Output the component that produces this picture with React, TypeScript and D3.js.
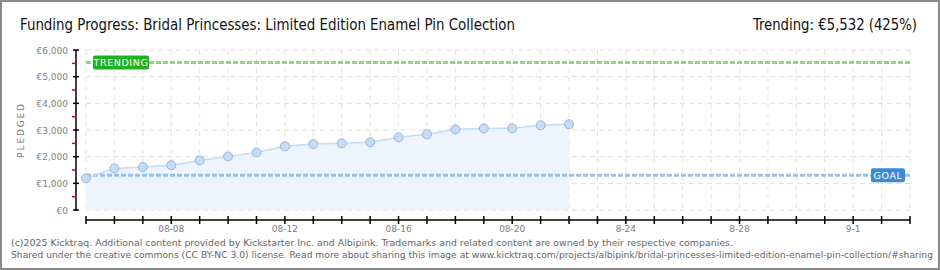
import React from "react";
import * as d3 from "d3";

const startDate = new Date(2025, 7, 5);
const endDate = new Date(2025, 8, 3);
const pledged = [1190, 1560, 1610, 1680, 1860, 2010, 2160, 2390, 2475, 2500, 2540, 2725, 2840, 3025, 3060, 3065, 3175, 3215];
const goal = 1300;
const trending = 5532;
const yTicks = [0, 1000, 2000, 3000, 4000, 5000, 6000];
const yMinor = [500, 1500, 2500, 3500, 4500, 5500];
const xLabelDates = [new Date(2025, 7, 8), new Date(2025, 7, 12), new Date(2025, 7, 16), new Date(2025, 7, 20), new Date(2025, 7, 24), new Date(2025, 7, 28), new Date(2025, 8, 1)];
const xLabels = ["08-08", "08-12", "08-16", "08-20", "8-24", "8-28", "9-1"];
const title = "Funding Progress: Bridal Princesses: Limited Edition Enamel Pin Collection";
const trendText = "Trending:  €5,532 (425%)";
const footer1 = "(c)2025 Kicktraq. Additional content provided by Kickstarter Inc. and Albipink. Trademarks and related content are owned by their respective companies.";
const footer2 = "Shared under the creative commons (CC BY-NC 3.0) license. Read more about sharing this image at www.kicktraq.com/projects/albipink/bridal-princesses-limited-edition-enamel-pin-collection/#sharing";

export default function App() {
  const W = 940, H = 270;
  const x = d3.scaleTime().domain([startDate, endDate]).range([86, 910]);
  const y = d3.scaleLinear().domain([0, 6000]).range([210, 50]);
  const days = d3.timeDay.range(startDate, d3.timeDay.offset(endDate, 1));
  const data = pledged.map((v, i) => ({ d: d3.timeDay.offset(startDate, i), v }));
  const line = d3.line<any>().x(p => x(p.d)).y(p => y(p.v));
  const area = d3.area<any>().x(p => x(p.d)).y0(y(0)).y1(p => y(p.v));
  const font = "'DejaVu Sans', sans-serif";
  const cond = "'DejaVu Sans Condensed', 'DejaVu Sans', sans-serif";
  const [x0, x1] = x.range();
  return (
    <div style={{ position: "absolute", left: 0, top: 0 }}>
      <svg width={W} height={H} style={{ display: "block", background: "#fff" }}>
        <rect x={1} y={1} width={W - 2} height={H - 2} fill="#fff" stroke="#8a8a8a" strokeWidth={2} />
        <g>
          {yTicks.map(t => (
            <line key={"gy" + t} x1={x0} x2={x1} y1={y(t)} y2={y(t)} stroke="#dedede" strokeDasharray="5,4" />
          ))}
          {days.map((d, i) => (
            <line key={"gx" + i} x1={x(d)} x2={x(d)} y1={y(6000)} y2={y(0)} stroke="#e2e2e2" strokeDasharray="5,4" />
          ))}
          <path d={area(data) || ""} fill="#edf4fd" />
          <line x1={x0} x2={x1} y1={y(trending)} y2={y(trending)} stroke="#8fd67f" strokeWidth={3} strokeDasharray="5,2" />
          <line x1={x0} x2={x1} y1={y(goal)} y2={y(goal)} stroke="#98c0ea" strokeWidth={3} strokeDasharray="5,2" />
          <path d={line(data) || ""} fill="none" stroke="#c3dbf4" strokeWidth={1.5} />
          {data.map((p, i) => (
            <circle key={"pt" + i} cx={x(p.d)} cy={y(p.v)} r={4.5} fill="#c4dcf6" stroke="#9ab4d4" strokeWidth={1} />
          ))}
          <rect x={93} y={y(trending) - 7} width={56} height={14} rx={2} fill="#1eb01e" />
          <text x={121} y={y(trending) + 3.5} textAnchor="middle" fill="#fff" fontFamily={font} fontSize={9.5} letterSpacing={0.6}>TRENDING</text>
          <rect x={871} y={y(goal) - 7} width={34} height={14} rx={2} fill="#3b8ad6" />
          <text x={888} y={y(goal) + 3.5} textAnchor="middle" fill="#fff" fontFamily={font} fontSize={9.5} letterSpacing={0.6}>GOAL</text>
          <line x1={76} x2={76} y1={y(6000)} y2={y(0) + 1} stroke="#000" strokeWidth={1.5} />
          {yTicks.map(t => (
            <g key={"yt" + t}>
              <line x1={73} x2={79} y1={y(t)} y2={y(t)} stroke="#000" strokeWidth={1.5} />
              <text x={68} y={y(t) + 3.5} textAnchor="end" fill="#808080" fontFamily={font} fontSize={9}>{"€" + d3.format(",")(t)}</text>
            </g>
          ))}
          {yMinor.map(t => (
            <line key={"ym" + t} x1={72} x2={75} y1={y(t)} y2={y(t)} stroke="#e00000" strokeWidth={1.5} />
          ))}
          <text transform={`translate(24,${130}) rotate(-90)`} textAnchor="middle" fill="#777" fontFamily={font} fontSize={9} letterSpacing={1.8}>PLEDGED</text>
          <line x1={x0} x2={x1} y1={220} y2={220} stroke="#000" strokeWidth={1.5} />
          {days.map((d, i) => (
            <line key={"xt" + i} x1={x(d)} x2={x(d)} y1={216} y2={224} stroke="#000" strokeWidth={1.5} />
          ))}
          {xLabelDates.map((d, i) => (
            <text key={"xl" + i} x={x(d)} y={232} textAnchor="middle" fill="#808080" fontFamily={font} fontSize={9}>{xLabels[i]}</text>
          ))}
          <text x={20} y={30} fill="#111" fontFamily={cond} fontSize={16} textLength={495} lengthAdjust="spacingAndGlyphs">{title}</text>
          <text x={753} y={30} fill="#111" fontFamily={cond} fontSize={16} textLength={164} lengthAdjust="spacingAndGlyphs">{trendText}</text>
          <text x={11} y={246} fill="#666" fontFamily={cond} fontSize={9} textLength={722} lengthAdjust="spacingAndGlyphs">{footer1}</text>
          <text x={11} y={258} fill="#666" fontFamily={cond} fontSize={9} textLength={922} lengthAdjust="spacingAndGlyphs">{footer2}</text>
        </g>
      </svg>
    </div>
  );
}
